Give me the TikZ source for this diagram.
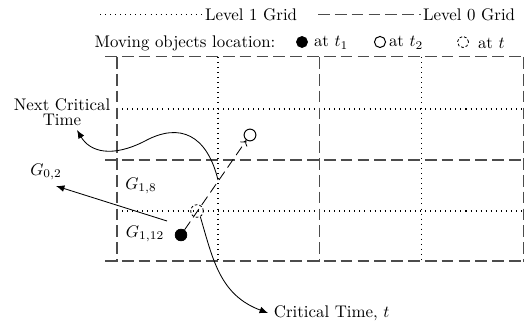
\documentclass[tikz,border=0pt]{standalone}
\usetikzlibrary{arrows.meta}
\begin{document}
\begin{tikzpicture}[x=0.594pt,y=-0.594pt,
  lvlzero/.style={line width=0.6pt, black!70, dash pattern=on 7pt off 3pt},
  lvlone/.style={line width=0.6pt, black, dash pattern=on 0.6pt off 2.4pt},
  traj/.style={line width=0.5pt, dash pattern=on 6pt off 3pt, -{To[length=3pt,width=5pt]}},
  objfull/.style={circle, draw, fill=black, inner sep=0pt, minimum size=7pt},
  objopen/.style={circle, draw, line width=0.6pt, inner sep=0pt, minimum size=7pt},
  objcrit/.style={circle, draw, line width=0.5pt, dash pattern=on 1.6pt off 1.2pt, inner sep=0pt, minimum size=7.5pt},
  legsym/.style={minimum size=6.6pt},
  legtext/.style={anchor=west, inner sep=1pt},
  callout/.style={-{Latex[length=5pt,width=4pt]}, line width=0.5pt}
]
\useasboundingbox (0,0) rectangle (525,329);

% legend
\coordinate (l1a) at (100,15);
\node[legtext] (l1t) at (203,15) {Level 1 Grid};
\draw[lvlone] (l1a) -- (l1t.west);
\coordinate (l0a) at (318,15);
\node[legtext] (l0t) at (421,15) {Level 0 Grid};
\draw[lvlzero] (l0a) -- (l0t.west);

\node (mol) at (185,43) {Moving objects location:};
\node[objfull,legsym] (lf) at (302,42) {};
\node[legtext] (lft) at (312,43) {at $t_1$};
\node[objopen,legsym] (lo) at (380,42) {};
\node[legtext] (lot) at (387,43) {at $t_2$};
\node[objcrit,legsym] (lc) at (463,42) {};
\node[legtext] (lct) at (476,43) {at $t$};

% grid
\foreach \yy in {109,211} \draw[lvlone] (117,\yy) -- (523,\yy);
\foreach \xx in {218,421} \draw[lvlone] (\xx,57) -- (\xx,261);
\foreach \yy in {57,160,261} \draw[lvlzero] (105,\yy) -- (525,\yy);
\foreach \xx in {117,319,523} \draw[lvlzero] (\xx,57) -- (\xx,262);

% labels
\node[align=center] (nctl) at (62,112) {Next Critical\\[-3pt]Time};
\node (g02) at (46,172) {$G_{0,2}$};
\node (g18) at (141,186) {$G_{1,8}$};
\node (g112) at (145,234) {$G_{1,12}$};
\node[anchor=west] (ctl) at (268,313) {Critical Time, $t$};

% objects
\node[objfull] (p1) at (181,235) {};
\node[objcrit] (pt) at (197,211) {};
\node[objopen] (p2) at (250,135) {};
\coordinate (nct) at (218,180);
\coordinate (nctip) at (77,130);
\coordinate (g02s) at (167,221);
\coordinate (g02tip) at (56,186);

\draw[traj] (p1) -- (p2);
\draw[callout] (nct) .. controls (207,135) and (180,122) .. (145,141) .. controls (112,158) and (90,152) .. (nctip);
\draw[callout] (g02s) -- (g02tip);
\draw[callout] (pt.-60) .. controls (213,260) and (220,295) .. (ctl.west);
\end{tikzpicture}
\end{document}
